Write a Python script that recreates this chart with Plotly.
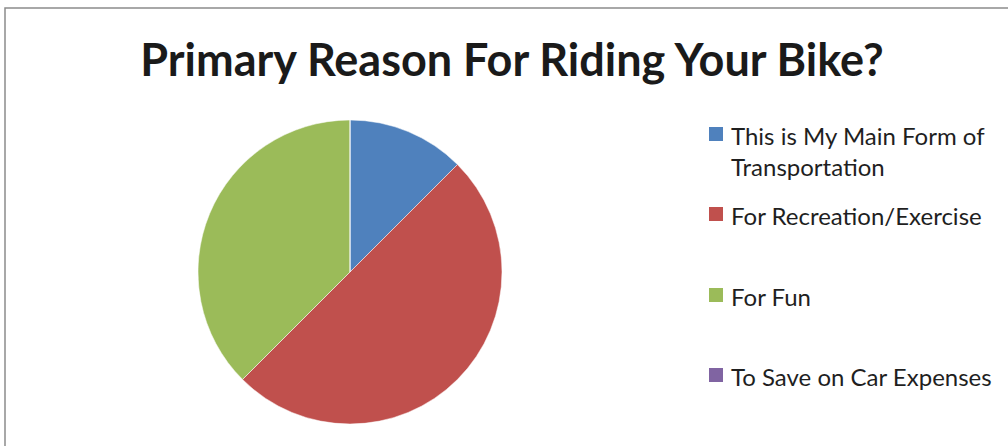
import plotly.graph_objects as go

# ── data ──
labels = [
    "This is My Main Form of<br>Transportation",
    "For Recreation/Exercise",
    "For Fun",
    "To Save on Car Expenses",
]
values = [1, 4, 3, 0]
colors = ["#4F81BD", "#C0504D", "#9BBB59", "#8064A2"]

W, H = 1008, 446

fig = go.Figure()

fig.add_trace(go.Pie(
    labels=[lab.replace("<br>", " ") for lab in labels],
    values=values,
    sort=False,
    direction="clockwise",
    rotation=0,
    textinfo="none",
    hoverinfo="label+value+percent",
    marker=dict(colors=colors, line=dict(color="white", width=0.5)),
    domain=dict(x=[(350 - 152) / W, (350 + 152) / W],
                y=[1 - 424 / H, 1 - 120 / H]),
    showlegend=False,
))

# ── legend drawn by hand so entries sit where Excel put them ──
legend_rows = [134, 214, 295, 375]   # pixel centre of each entry's first line
shapes = [dict(
    type="rect", xref="paper", yref="paper",
    x0=5 / W, x1=1.02, y0=-0.02, y1=1 - 8 / H,
    line=dict(color="#8c8c8c", width=1.5),
    fillcolor="rgba(0,0,0,0)",
)]
annotations = []
for lab, col, row in zip(labels, colors, legend_rows):
    shapes.append(dict(
        type="rect", xref="paper", yref="paper",
        x0=709 / W, x1=723 / W,
        y0=1 - (row + 7) / H, y1=1 - (row - 7) / H,
        line=dict(width=0), fillcolor=col,
    ))
    annotations.append(dict(
        text=lab, xref="paper", yref="paper",
        x=729 / W, y=1 - (row - 15) / H,
        xanchor="left", yanchor="top", align="left",
        showarrow=False,
        font=dict(size=24, color="#1f1f1f"),
    ))

fig.update_layout(
    width=W,
    height=H,
    paper_bgcolor="white",
    plot_bgcolor="white",
    margin=dict(l=0, r=0, t=0, b=0),
    font=dict(family="Lato, sans-serif", color="#1f1f1f"),
    title=dict(
        text="<b>Primary Reason For Riding Your Bike?</b>",
        x=512 / W, xanchor="center",
        y=1 - 60 / H, yanchor="middle",
        font=dict(size=45, color="#1a1a1a", family="Lato, sans-serif"),
    ),
    showlegend=False,
    shapes=shapes,
    annotations=annotations,
)

# drop the page's default body margin so the figure sits at the window origin
fig.write_html(
    "out.html",
    config={"displayModeBar": False},
    post_script="document.body.style.margin = '0';",
)
